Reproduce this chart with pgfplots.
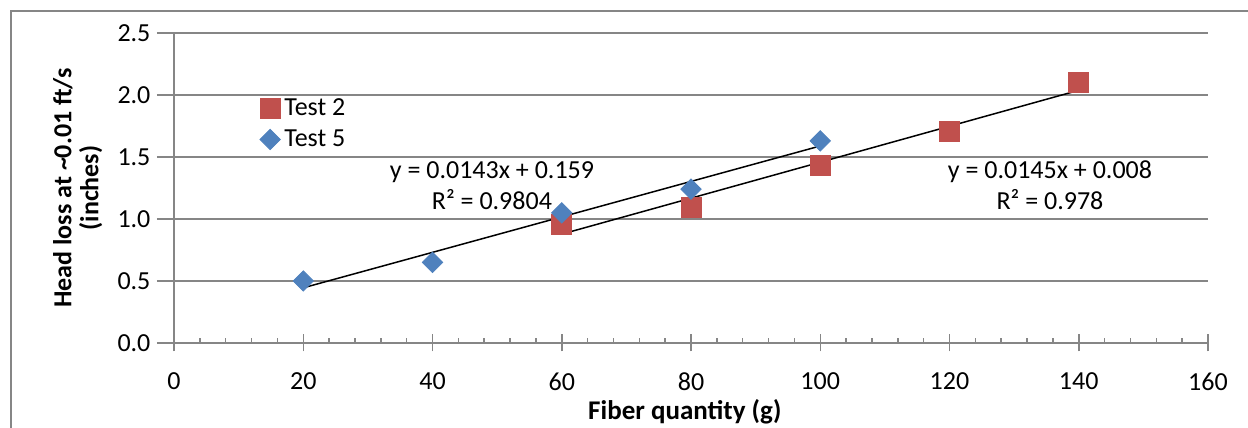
\documentclass[border=0pt]{standalone}
\usepackage{pgfplots}
\pgfplotsset{compat=1.18}
\usepackage{fontspec}
\setmainfont{Carlito}
\definecolor{redS}{RGB}{192,80,77}
\definecolor{blueS}{RGB}{79,129,189}
\definecolor{gridG}{RGB}{134,134,134}
\begin{document}
\begin{tikzpicture}[x=1pt,y=1pt]
\useasboundingbox (0,0) rectangle (624,214);
\draw[gridG, line width=0.75pt] (5.5,0) -- (5.5,208.5) -- (624,208.5);
\begin{axis}[
  at={(87pt,42.5pt)}, anchor=south west,
  scale only axis, width=517pt, height=155pt,
  xmin=0, xmax=160, ymin=0, ymax=2.5,
  xtick={0,20,...,160}, minor x tick num=4,
  ytick={0,0.5,1,1.5,2,2.5},
  axis lines=left, axis line style={-, gridG, line width=0.75pt},
  ymajorgrids, grid style={gridG, line width=0.75pt},
  tick style={gridG, line width=0.75pt},
  tick align=center,
  major tick length=8.5pt,
  minor tick length=2.5pt,
  minor x tick style={yshift=1.25pt},
  major y tick style={xshift=-4.25pt},
  /pgf/number format/assume math mode=true,
  ticklabel style={font=\fontsize{13}{15}\selectfont, text=black},
  yticklabel style={xshift=-4pt, /pgf/number format/.cd, fixed, fixed zerofill, precision=1},
  xticklabel style={yshift=-7pt, /pgf/number format/.cd, fixed},
  xlabel={Fiber quantity (g)},
  xlabel style={at={(axis description cs:0.494,-0.223)}, anchor=center, font=\bfseries\fontsize{13.5}{15}\selectfont},
  ylabel={Head loss at \textasciitilde0.01 ft/s\\(inches)},
  ylabel style={at={(axis description cs:-0.093,0.5)}, anchor=center, align=center, font=\bfseries\fontsize{13}{13.5}\selectfont},
  legend style={draw=none, fill=none, at={(0.077,0.815)}, anchor=north west, font=\fontsize{13}{15}\selectfont, row sep=1.5pt},
  legend cell align=left,
]
\addplot[only marks, mark=square*, mark size=5pt, mark options={draw=redS, fill=redS}] coordinates {
(60,0.96) (80,1.09) (100,1.43) (120,1.71) (140,2.10)};
\addlegendentry{Test 2}
\addplot[only marks, mark=square*, mark size=3.6pt, mark options={draw=blueS, fill=blueS, rotate=45}] coordinates {
(20,0.50) (40,0.65) (60,1.05) (80,1.24) (100,1.63)};
\addlegendentry{Test 5}
\addplot[black, line width=0.75pt, forget plot] coordinates {(60,0.878) (140,2.038)};
\addplot[black, line width=0.75pt, forget plot] coordinates {(20,0.445) (100,1.589)};
\node[align=center, font=\fontsize{13}{15.5}\selectfont] at (axis cs:49.2,1.27) {y = 0.0143x + 0.159\\R² = 0.9804};
\node[align=center, font=\fontsize{13}{15.5}\selectfont] at (axis cs:135.55,1.27) {y = 0.0145x + 0.008\\R² = 0.978};
\end{axis}
\end{tikzpicture}
\end{document}
